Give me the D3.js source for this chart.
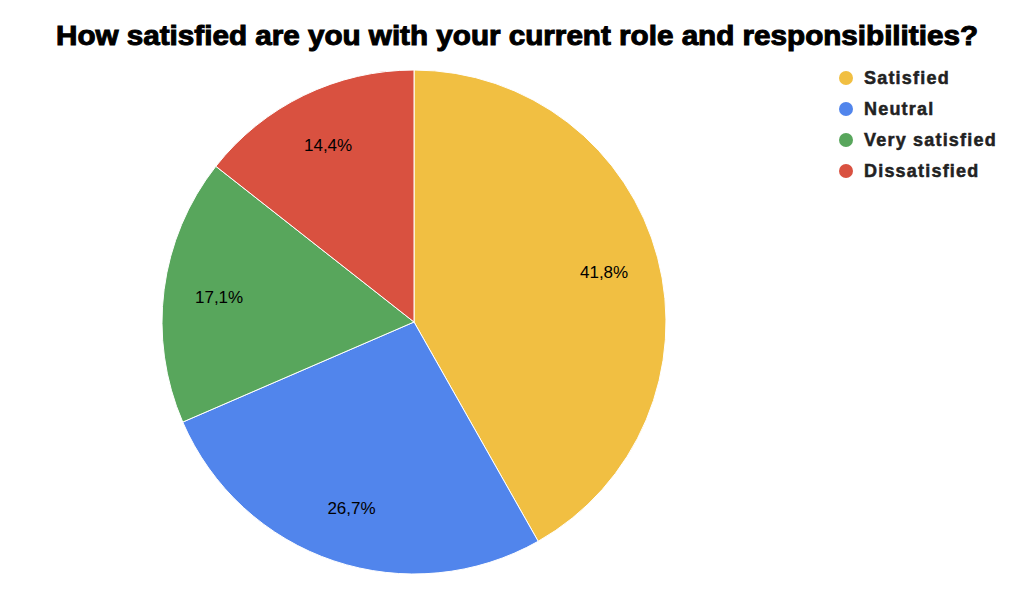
<!DOCTYPE html>
<html>
<head>
<meta charset="utf-8">
<script src="https://cdn.jsdelivr.net/npm/d3@7"></script>
<style>
  body { margin: 0; background: #fff; }
  svg { display: block; }
</style>
</head>
<body>
<div id="chart"></div>
<script>
// chart data
const categories = ["Satisfied", "Neutral", "Very satisfied", "Dissatisfied"];
const shares = [41.8, 26.7, 17.1, 14.4];
const colors = ["#F1BF42", "#5185EC", "#58A65C", "#D95140"];
const title = "How satisfied are you with your current role and responsibilities?";

const width = 1024, height = 598;
const cx = 414, cy = 322, radius = 252;

const svg = d3.select("#chart").append("svg")
    .attr("width", width)
    .attr("height", height);

// title
svg.append("text")
    .attr("x", 517)
    .attr("y", 45)
    .attr("text-anchor", "middle")
    .attr("font-family", "Liberation Sans, Arial, sans-serif")
    .attr("font-weight", "bold")
    .attr("font-size", 27)
    .attr("textLength", 922)
    .attr("lengthAdjust", "spacingAndGlyphs")
    .attr("stroke", "#000")
    .attr("stroke-width", 1)
    .attr("fill", "#000")
    .text(title);

const data = categories.map((c, i) => ({name: c, value: shares[i], color: colors[i]}));

const pie = d3.pie()
    .sort(null)
    .value(d => d.value);

const arc = d3.arc()
    .innerRadius(0)
    .outerRadius(radius);

const labelArc = d3.arc()
    .innerRadius(radius * 0.78)
    .outerRadius(radius * 0.78);

const g = svg.append("g")
    .attr("transform", `translate(${cx}, ${cy})`);

const slices = g.selectAll(".slice")
    .data(pie(data))
    .enter()
    .append("g")
    .attr("class", "slice");

slices.append("path")
    .attr("d", arc)
    .attr("fill", d => d.data.color)
    .attr("stroke", "#fff")
    .attr("stroke-width", 1);

slices.append("text")
    .attr("transform", d => `translate(${labelArc.centroid(d)})`)
    .attr("dy", "0.35em")
    .attr("text-anchor", "middle")
    .attr("font-family", "Liberation Sans, Arial, sans-serif")
    .attr("font-size", 17)
    .attr("fill", "#000")
    .text(d => d.data.value.toFixed(1).replace(".", ",") + "%");

// legend
const legendY = d3.scalePoint()
    .domain(categories)
    .range([78, 171]);

const legend = svg.append("g")
    .selectAll(".legend-item")
    .data(data)
    .enter()
    .append("g")
    .attr("class", "legend-item")
    .attr("transform", d => `translate(846, ${legendY(d.name)})`);

legend.append("circle")
    .attr("r", 7)
    .attr("fill", d => d.color);

legend.append("text")
    .attr("x", 18)
    .attr("dy", "0.36em")
    .attr("font-family", "Liberation Sans, Arial, sans-serif")
    .attr("font-weight", "bold")
    .attr("font-size", 18)
    .attr("letter-spacing", 1.2)
    .attr("stroke", "#222")
    .attr("stroke-width", 0.5)
    .attr("fill", "#222")
    .text(d => d.name);
</script>
</body>
</html>
